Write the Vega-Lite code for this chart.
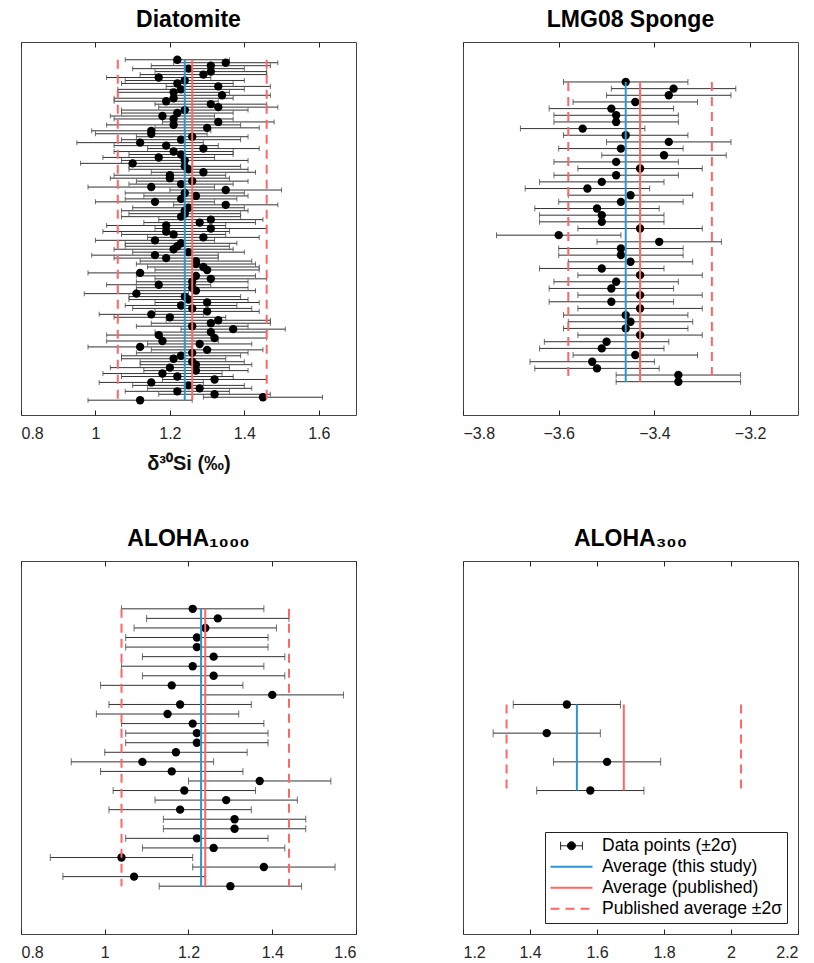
{
  "$schema": "https://vega.github.io/schema/vega-lite/v6.json",
  "padding": {"left": 20, "top": 8, "right": 5, "bottom": 5},
  "background": "white",
  "config": {
    "font": "Liberation Sans",
    "view": {"stroke": "#444", "strokeWidth": 1},
    "axis": {"labelFont": "Liberation Sans", "labelFontSize": 16, "labelColor": "#262626", "tickColor": "#262626", "grid": false, "domain": false, "tickSize": -5, "labelPadding": 15, "format": "~g", "titleFont": "Liberation Sans", "titleFontSize": 20, "titleFontWeight": "bold", "titleColor": "#111"},
    "title": {"font": "Liberation Sans", "fontSize": 23, "fontWeight": "bold", "color": "black", "offset": 10}
  },
  "datasets": {
    "diatomite": [
      {"n":1,"d":1.22,"e":0.14},{"n":2,"d":1.35,"e":0.14},{"n":3,"d":1.31,"e":0.16},{"n":4,"d":1.25,"e":0.15},{"n":5,"d":1.31,"e":0.15},{"n":6,"d":1.29,"e":0.17},{"n":7,"d":1.17,"e":0.14},{"n":8,"d":1.24,"e":0.16},{"n":9,"d":1.22,"e":0.15},{"n":10,"d":1.33,"e":0.14},
      {"n":11,"d":1.23,"e":0.17},{"n":12,"d":1.21,"e":0.15},{"n":13,"d":1.34,"e":0.13},{"n":14,"d":1.21,"e":0.16},{"n":15,"d":1.19,"e":0.14},{"n":16,"d":1.31,"e":0.15},{"n":17,"d":1.33,"e":0.16},{"n":18,"d":1.24,"e":0.17},{"n":19,"d":1.22,"e":0.15},{"n":20,"d":1.18,"e":0.14},
      {"n":21,"d":1.21,"e":0.16},{"n":22,"d":1.33,"e":0.15},{"n":23,"d":1.21,"e":0.18},{"n":24,"d":1.30,"e":0.14},{"n":25,"d":1.15,"e":0.16},{"n":26,"d":1.15,"e":0.15},{"n":27,"d":1.26,"e":0.15},{"n":28,"d":1.23,"e":0.16},{"n":29,"d":1.12,"e":0.17},{"n":30,"d":1.19,"e":0.14},
      {"n":31,"d":1.29,"e":0.15},{"n":32,"d":1.21,"e":0.16},{"n":33,"d":1.23,"e":0.14},{"n":34,"d":1.17,"e":0.15},{"n":35,"d":1.24,"e":0.17},{"n":36,"d":1.10,"e":0.14},{"n":37,"d":1.24,"e":0.15},{"n":38,"d":1.25,"e":0.16},{"n":39,"d":1.29,"e":0.14},{"n":40,"d":1.20,"e":0.15},
      {"n":41,"d":1.20,"e":0.16},{"n":42,"d":1.26,"e":0.15},{"n":43,"d":1.23,"e":0.14},{"n":44,"d":1.15,"e":0.17},{"n":45,"d":1.35,"e":0.15},{"n":46,"d":1.24,"e":0.16},{"n":47,"d":1.27,"e":0.14},{"n":48,"d":1.23,"e":0.15},{"n":49,"d":1.16,"e":0.16},{"n":50,"d":1.35,"e":0.14},
      {"n":51,"d":1.25,"e":0.15},{"n":52,"d":1.24,"e":0.17},{"n":53,"d":1.24,"e":0.15},{"n":54,"d":1.23,"e":0.16},{"n":55,"d":1.31,"e":0.14},{"n":56,"d":1.28,"e":0.15},{"n":57,"d":1.19,"e":0.16},{"n":58,"d":1.31,"e":0.15},{"n":59,"d":1.19,"e":0.17},{"n":60,"d":1.21,"e":0.14},
      {"n":61,"d":1.29,"e":0.15},{"n":62,"d":1.16,"e":0.16},{"n":63,"d":1.23,"e":0.15},{"n":64,"d":1.22,"e":0.14},{"n":65,"d":1.21,"e":0.16},{"n":66,"d":1.25,"e":0.15},{"n":67,"d":1.16,"e":0.17},{"n":68,"d":1.19,"e":0.14},{"n":69,"d":1.27,"e":0.15},{"n":70,"d":1.27,"e":0.16},
      {"n":71,"d":1.29,"e":0.15},{"n":72,"d":1.30,"e":0.14},{"n":73,"d":1.12,"e":0.14},{"n":74,"d":1.27,"e":0.16},{"n":75,"d":1.31,"e":0.15},{"n":76,"d":1.26,"e":0.15},{"n":77,"d":1.17,"e":0.14},{"n":78,"d":1.26,"e":0.15},{"n":79,"d":1.27,"e":0.16},{"n":80,"d":1.11,"e":0.14},
      {"n":81,"d":1.24,"e":0.15},{"n":82,"d":1.25,"e":0.16},{"n":83,"d":1.30,"e":0.14},{"n":84,"d":1.23,"e":0.15},{"n":85,"d":1.26,"e":0.16},{"n":86,"d":1.30,"e":0.14},{"n":87,"d":1.15,"e":0.14},{"n":88,"d":1.20,"e":0.15},{"n":89,"d":1.33,"e":0.14},{"n":90,"d":1.31,"e":0.16},
      {"n":91,"d":1.26,"e":0.15},{"n":92,"d":1.37,"e":0.14},{"n":93,"d":1.31,"e":0.15},{"n":94,"d":1.17,"e":0.14},{"n":95,"d":1.32,"e":0.14},{"n":96,"d":1.18,"e":0.15},{"n":97,"d":1.28,"e":0.14},{"n":98,"d":1.12,"e":0.14},{"n":99,"d":1.30,"e":0.15},{"n":100,"d":1.26,"e":0.15},
      {"n":101,"d":1.23,"e":0.16},{"n":102,"d":1.21,"e":0.14},{"n":103,"d":1.26,"e":0.14},{"n":104,"d":1.27,"e":0.15},{"n":105,"d":1.20,"e":0.16},{"n":106,"d":1.27,"e":0.14},{"n":107,"d":1.18,"e":0.16},{"n":108,"d":1.22,"e":0.15},{"n":109,"d":1.32,"e":0.14},{"n":110,"d":1.15,"e":0.14},
      {"n":111,"d":1.25,"e":0.15},{"n":112,"d":1.28,"e":0.14},{"n":113,"d":1.22,"e":0.14},{"n":114,"d":1.32,"e":0.15},{"n":115,"d":1.45,"e":0.16},{"n":116,"d":1.12,"e":0.14}
    ],
    "lmg08": [
      {"n":1,"d":-3.46,"e":0.13},{"n":2,"d":-3.36,"e":0.13},{"n":3,"d":-3.37,"e":0.13},{"n":4,"d":-3.44,"e":0.13},{"n":5,"d":-3.49,"e":0.13},{"n":6,"d":-3.48,"e":0.13},{"n":7,"d":-3.48,"e":0.13},{"n":8,"d":-3.55,"e":0.13},{"n":9,"d":-3.46,"e":0.13},{"n":10,"d":-3.37,"e":0.13},
      {"n":11,"d":-3.47,"e":0.13},{"n":12,"d":-3.38,"e":0.13},{"n":13,"d":-3.48,"e":0.13},{"n":14,"d":-3.43,"e":0.13},{"n":15,"d":-3.48,"e":0.13},{"n":16,"d":-3.51,"e":0.13},{"n":17,"d":-3.54,"e":0.13},{"n":18,"d":-3.45,"e":0.13},{"n":19,"d":-3.47,"e":0.13},{"n":20,"d":-3.52,"e":0.13},
      {"n":21,"d":-3.51,"e":0.13},{"n":22,"d":-3.51,"e":0.13},{"n":23,"d":-3.43,"e":0.13},{"n":24,"d":-3.60,"e":0.13},{"n":25,"d":-3.39,"e":0.13},{"n":26,"d":-3.47,"e":0.13},{"n":27,"d":-3.47,"e":0.13},{"n":28,"d":-3.45,"e":0.13},{"n":29,"d":-3.51,"e":0.13},{"n":30,"d":-3.43,"e":0.13},
      {"n":31,"d":-3.48,"e":0.13},{"n":32,"d":-3.49,"e":0.13},{"n":33,"d":-3.43,"e":0.13},{"n":34,"d":-3.49,"e":0.13},{"n":35,"d":-3.43,"e":0.13},{"n":36,"d":-3.46,"e":0.13},{"n":37,"d":-3.45,"e":0.13},{"n":38,"d":-3.46,"e":0.13},{"n":39,"d":-3.43,"e":0.13},{"n":40,"d":-3.50,"e":0.13},
      {"n":41,"d":-3.51,"e":0.13},{"n":42,"d":-3.44,"e":0.13},{"n":43,"d":-3.53,"e":0.13},{"n":44,"d":-3.52,"e":0.13},{"n":45,"d":-3.35,"e":0.13},{"n":46,"d":-3.35,"e":0.13}
    ],
    "aloha1000": [
      {"n":1,"d":1.21,"e":0.17},{"n":2,"d":1.27,"e":0.17},{"n":3,"d":1.24,"e":0.17},{"n":4,"d":1.22,"e":0.17},{"n":5,"d":1.22,"e":0.17},{"n":6,"d":1.26,"e":0.17},{"n":7,"d":1.21,"e":0.17},{"n":8,"d":1.26,"e":0.17},{"n":9,"d":1.16,"e":0.17},{"n":10,"d":1.40,"e":0.17},
      {"n":11,"d":1.18,"e":0.17},{"n":12,"d":1.15,"e":0.17},{"n":13,"d":1.21,"e":0.17},{"n":14,"d":1.22,"e":0.17},{"n":15,"d":1.22,"e":0.17},{"n":16,"d":1.17,"e":0.17},{"n":17,"d":1.09,"e":0.17},{"n":18,"d":1.16,"e":0.17},{"n":19,"d":1.37,"e":0.17},{"n":20,"d":1.19,"e":0.17},
      {"n":21,"d":1.29,"e":0.17},{"n":22,"d":1.18,"e":0.17},{"n":23,"d":1.31,"e":0.17},{"n":24,"d":1.31,"e":0.17},{"n":25,"d":1.22,"e":0.17},{"n":26,"d":1.26,"e":0.17},{"n":27,"d":1.04,"e":0.17},{"n":28,"d":1.38,"e":0.17},{"n":29,"d":1.07,"e":0.17},{"n":30,"d":1.30,"e":0.17}
    ],
    "aloha300": [
      {"n":1,"d":1.51,"e":0.16},{"n":2,"d":1.45,"e":0.16},{"n":3,"d":1.63,"e":0.16},{"n":4,"d":1.58,"e":0.16}
    ],
    "lines": [
      {"panel":"Diatomite","series":"Average (this study)","kind":"solid","x":1.24,"y1":1,"y2":116},
      {"panel":"Diatomite","series":"Average (published)","kind":"solid","x":1.26,"y1":1,"y2":116},
      {"panel":"Diatomite","series":"Published average ±2σ","kind":"dash","x":1.06,"y1":1,"y2":116},
      {"panel":"Diatomite","series":"Published average ±2σ","kind":"dash","x":1.46,"y1":1,"y2":116},
      {"panel":"LMG08","series":"Average (this study)","kind":"solid","x":-3.46,"y1":1,"y2":46},
      {"panel":"LMG08","series":"Average (published)","kind":"solid","x":-3.43,"y1":1,"y2":46},
      {"panel":"LMG08","series":"Published average ±2σ","kind":"dash","x":-3.58,"y1":1,"y2":46},
      {"panel":"LMG08","series":"Published average ±2σ","kind":"dash","x":-3.28,"y1":1,"y2":46},
      {"panel":"ALOHA1000","series":"Average (this study)","kind":"solid","x":1.23,"y1":1,"y2":30},
      {"panel":"ALOHA1000","series":"Average (published)","kind":"solid","x":1.24,"y1":1,"y2":30},
      {"panel":"ALOHA1000","series":"Published average ±2σ","kind":"dash","x":1.04,"y1":1,"y2":30},
      {"panel":"ALOHA1000","series":"Published average ±2σ","kind":"dash","x":1.44,"y1":1,"y2":30},
      {"panel":"ALOHA300","series":"Average (this study)","kind":"solid","x":1.54,"y1":1,"y2":4},
      {"panel":"ALOHA300","series":"Average (published)","kind":"solid","x":1.68,"y1":1,"y2":4},
      {"panel":"ALOHA300","series":"Published average ±2σ","kind":"dash","x":1.33,"y1":1,"y2":4},
      {"panel":"ALOHA300","series":"Published average ±2σ","kind":"dash","x":2.03,"y1":1,"y2":4}
    ]
  },
  "columns": 2,
  "spacing": {"row": 146, "column": 107},
  "bounds": "flush",
  "resolve": {"scale": {"color": "independent"}, "legend": {"color": "independent"}},
  "concat": [
    {
      "width": 335, "height": 373,
      "title": "Diatomite",
      "resolve": {"axis": {"x": "independent"}},
      "layer": [
        {"data": {"name": "diatomite"}, "mark": {"type": "errorbar", "ticks": {"size": 5}, "color": "#333", "thickness": 1},
         "encoding": {"x": {"field": "d", "type": "quantitative", "scale": {"domain": [0.8, 1.7], "nice": false, "zero": false}, "axis": {"values": [0.8, 1, 1.2, 1.4, 1.6], "title": "δ³⁰Si (‰)", "titlePadding": 12}},
                      "xError": {"field": "e"},
                      "y": {"field": "n", "type": "quantitative", "scale": {"domain": [-5, 121], "reverse": true, "nice": false, "zero": false}, "axis": null}}},
        {"data": {"name": "diatomite"}, "mark": {"type": "circle", "size": 70, "color": "black", "opacity": 1},
         "encoding": {"x": {"field": "d", "type": "quantitative", "axis": {"orient": "top", "labels": false, "values": [0.8, 1, 1.2, 1.4, 1.6], "title": null}}, "y": {"field": "n", "type": "quantitative"}}},
        {"data": {"name": "lines"}, "transform": [{"filter": "datum.panel == 'Diatomite' && datum.kind == 'solid'"}],
         "mark": {"type": "rule", "strokeWidth": 2},
         "encoding": {"x": {"field": "x", "type": "quantitative", "axis": null}, "y": {"field": "y1", "type": "quantitative"}, "y2": {"field": "y2"},
                      "color": {"field": "series", "type": "nominal", "scale": {"domain": ["Average (this study)", "Average (published)", "Published average ±2σ"], "range": ["#2C97D4", "#FF6666", "#FF6666"]}, "legend": null}}},
        {"data": {"name": "lines"}, "transform": [{"filter": "datum.panel == 'Diatomite' && datum.kind == 'dash'"}],
         "mark": {"type": "rule", "strokeWidth": 2, "strokeDash": [9, 6]},
         "encoding": {"x": {"field": "x", "type": "quantitative", "axis": null}, "y": {"field": "y1", "type": "quantitative"}, "y2": {"field": "y2"},
                      "color": {"field": "series", "type": "nominal", "legend": null}}}
      ]
    },
    {
      "width": 335, "height": 373,
      "title": "LMG08 Sponge",
      "resolve": {"axis": {"x": "independent"}},
      "layer": [
        {"data": {"name": "lmg08"}, "mark": {"type": "errorbar", "ticks": {"size": 6}, "color": "#333", "thickness": 1},
         "encoding": {"x": {"field": "d", "type": "quantitative", "scale": {"domain": [-3.8, -3.1], "nice": false, "zero": false}, "axis": {"values": [-3.8, -3.6, -3.4, -3.2], "title": null}},
                      "xError": {"field": "e"},
                      "y": {"field": "n", "type": "quantitative", "scale": {"domain": [-5, 51], "reverse": true, "nice": false, "zero": false}, "axis": null}}},
        {"data": {"name": "lmg08"}, "mark": {"type": "circle", "size": 70, "color": "black", "opacity": 1},
         "encoding": {"x": {"field": "d", "type": "quantitative", "axis": {"orient": "top", "labels": false, "values": [-3.8, -3.6, -3.4, -3.2], "title": null}}, "y": {"field": "n", "type": "quantitative"}}},
        {"data": {"name": "lines"}, "transform": [{"filter": "datum.panel == 'LMG08' && datum.kind == 'solid'"}],
         "mark": {"type": "rule", "strokeWidth": 2},
         "encoding": {"x": {"field": "x", "type": "quantitative", "axis": null}, "y": {"field": "y1", "type": "quantitative"}, "y2": {"field": "y2"},
                      "color": {"field": "series", "type": "nominal", "scale": {"domain": ["Average (this study)", "Average (published)", "Published average ±2σ"], "range": ["#2C97D4", "#FF6666", "#FF6666"]}, "legend": null}}},
        {"data": {"name": "lines"}, "transform": [{"filter": "datum.panel == 'LMG08' && datum.kind == 'dash'"}],
         "mark": {"type": "rule", "strokeWidth": 2, "strokeDash": [9, 6]},
         "encoding": {"x": {"field": "x", "type": "quantitative", "axis": null}, "y": {"field": "y1", "type": "quantitative"}, "y2": {"field": "y2"},
                      "color": {"field": "series", "type": "nominal", "legend": null}}}
      ]
    },
    {
      "width": 335, "height": 373,
      "title": "ALOHA₁₀₀₀",
      "resolve": {"axis": {"x": "independent"}},
      "layer": [
        {"data": {"name": "aloha1000"}, "mark": {"type": "errorbar", "ticks": {"size": 7}, "color": "#333", "thickness": 1},
         "encoding": {"x": {"field": "d", "type": "quantitative", "scale": {"domain": [0.8, 1.6], "nice": false, "zero": false}, "axis": {"values": [0.8, 1, 1.2, 1.4, 1.6], "title": null}},
                      "xError": {"field": "e"},
                      "y": {"field": "n", "type": "quantitative", "scale": {"domain": [-4, 35], "reverse": true, "nice": false, "zero": false}, "axis": null}}},
        {"data": {"name": "aloha1000"}, "mark": {"type": "circle", "size": 70, "color": "black", "opacity": 1},
         "encoding": {"x": {"field": "d", "type": "quantitative", "axis": {"orient": "top", "labels": false, "values": [0.8, 1, 1.2, 1.4, 1.6], "title": null}}, "y": {"field": "n", "type": "quantitative"}}},
        {"data": {"name": "lines"}, "transform": [{"filter": "datum.panel == 'ALOHA1000' && datum.kind == 'solid'"}],
         "mark": {"type": "rule", "strokeWidth": 2},
         "encoding": {"x": {"field": "x", "type": "quantitative", "axis": null}, "y": {"field": "y1", "type": "quantitative"}, "y2": {"field": "y2"},
                      "color": {"field": "series", "type": "nominal", "scale": {"domain": ["Average (this study)", "Average (published)", "Published average ±2σ"], "range": ["#2C97D4", "#FF6666", "#FF6666"]}, "legend": null}}},
        {"data": {"name": "lines"}, "transform": [{"filter": "datum.panel == 'ALOHA1000' && datum.kind == 'dash'"}],
         "mark": {"type": "rule", "strokeWidth": 2, "strokeDash": [9, 6]},
         "encoding": {"x": {"field": "x", "type": "quantitative", "axis": null}, "y": {"field": "y1", "type": "quantitative"}, "y2": {"field": "y2"},
                      "color": {"field": "series", "type": "nominal", "legend": null}}}
      ]
    },
    {
      "width": 335, "height": 373,
      "title": "ALOHA₃₀₀",
      "resolve": {"axis": {"x": "independent"}},
      "layer": [
        {"data": {"name": "aloha300"}, "mark": {"type": "errorbar", "ticks": {"size": 8}, "color": "#333", "thickness": 1},
         "encoding": {"x": {"field": "d", "type": "quantitative", "scale": {"domain": [1.2, 2.2], "nice": false, "zero": false}, "axis": {"values": [1.2, 1.4, 1.6, 1.8, 2, 2.2], "title": null}},
                      "xError": {"field": "e"},
                      "y": {"field": "n", "type": "quantitative", "scale": {"domain": [-4, 9], "reverse": true, "nice": false, "zero": false}, "axis": null}}},
        {"data": {"name": "aloha300"}, "mark": {"type": "circle", "size": 70, "color": "black", "opacity": 1},
         "encoding": {"x": {"field": "d", "type": "quantitative", "axis": {"orient": "top", "labels": false, "values": [1.2, 1.4, 1.6, 1.8, 2, 2.2], "title": null}}, "y": {"field": "n", "type": "quantitative"}}},
        {"data": {"name": "lines"}, "transform": [{"filter": "datum.panel == 'ALOHA300' && datum.kind == 'solid'"}],
         "mark": {"type": "rule", "strokeWidth": 2},
         "encoding": {"x": {"field": "x", "type": "quantitative", "axis": null}, "y": {"field": "y1", "type": "quantitative"}, "y2": {"field": "y2"},
                      "color": {"field": "series", "type": "nominal",
                                "scale": {"domain": ["Data points (±2σ)", "Average (this study)", "Average (published)", "Published average ±2σ"], "range": ["black", "#2C97D4", "#FF6666", "#FF6666"]},
                                "legend": {"title": null, "orient": "bottom-right", "offset": 11, "strokeColor": "#222", "fillColor": "white", "padding": 5,
                                           "labelFont": "Liberation Sans", "labelFontSize": 17.5, "labelColor": "black", "labelLimit": 300, "labelOffset": 6,
                                           "symbolSize": 1764, "symbolStrokeWidth": 2, "rowPadding": 2, "symbolType": "stroke",
                                           "encode": {
                                             "labels": {"update": {"x": {"value": 52}}},
                                             "symbols": {"update": {
                                             "x": {"value": 21.5},
                                             "size": {"value": 1764},
                                             "shape": {"signal": "datum.index === 0 ? 'M-0.52,0H0.52M-0.52,-0.19V0.19M0.52,-0.19V0.19M0.19,0A0.19,0.19,0,1,1,-0.19,0A0.19,0.19,0,1,1,0.19,0Z' : 'M-1,0H1'"},
                                             "fill": {"signal": "datum.index === 0 ? 'black' : 'transparent'"},
                                             "strokeWidth": {"signal": "datum.index === 0 ? 1 : 2"},
                                             "strokeDash": {"signal": "datum.index === 3 ? [9, 6] : [1, 0]"}
                                           }}}}}}},
        {"data": {"name": "lines"}, "transform": [{"filter": "datum.panel == 'ALOHA300' && datum.kind == 'dash'"}],
         "mark": {"type": "rule", "strokeWidth": 2, "strokeDash": [9, 6]},
         "encoding": {"x": {"field": "x", "type": "quantitative", "axis": null}, "y": {"field": "y1", "type": "quantitative"}, "y2": {"field": "y2"},
                      "color": {"field": "series", "type": "nominal"}}}
      ]
    }
  ]
}
